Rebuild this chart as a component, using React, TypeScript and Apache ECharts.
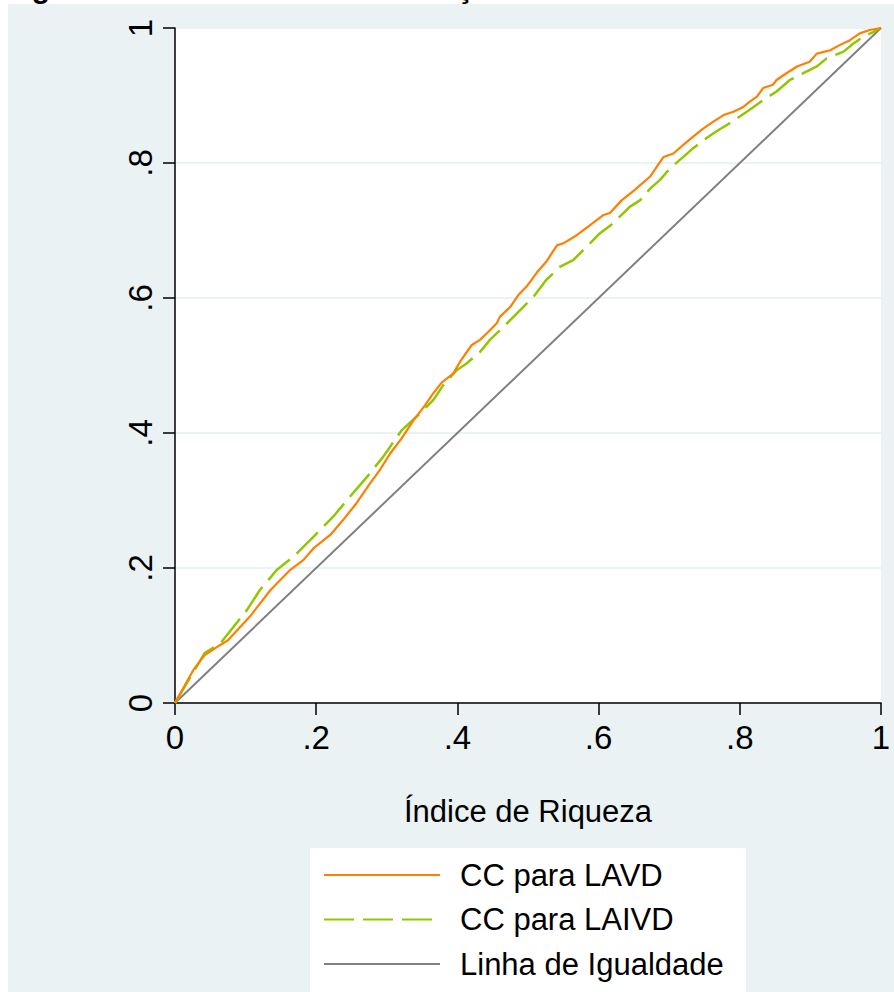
import React, { useEffect, useRef } from "react";
import * as echarts from "echarts";

const seriesNames = ["CC para LAVD", "CC para LAIVD", "Linha de Igualdade"];

const lavdX = [0, 0.026, 0.042, 0.064, 0.075, 0.106, 0.135, 0.163, 0.182, 0.196, 0.22, 0.238, 0.257, 0.276, 0.29, 0.305, 0.321, 0.338, 0.354, 0.366, 0.378, 0.394, 0.404, 0.42, 0.432, 0.444, 0.456, 0.46, 0.475, 0.486, 0.498, 0.512, 0.526, 0.541, 0.55, 0.569, 0.588, 0.607, 0.616, 0.633, 0.65, 0.673, 0.682, 0.692, 0.706, 0.72, 0.734, 0.748, 0.762, 0.777, 0.791, 0.805, 0.814, 0.824, 0.833, 0.847, 0.852, 0.866, 0.881, 0.899, 0.909, 0.928, 0.942, 0.956, 0.97, 0.984, 0.996, 1];
const lavdY = [0, 0.049, 0.071, 0.086, 0.093, 0.128, 0.167, 0.197, 0.212, 0.229, 0.249, 0.271, 0.296, 0.325, 0.345, 0.37, 0.392, 0.419, 0.441, 0.459, 0.475, 0.488, 0.506, 0.53, 0.538, 0.55, 0.563, 0.572, 0.587, 0.604, 0.617, 0.637, 0.654, 0.678, 0.681, 0.693, 0.708, 0.723, 0.726, 0.745, 0.759, 0.78, 0.794, 0.809, 0.814, 0.827, 0.839, 0.851, 0.861, 0.871, 0.876, 0.883, 0.891, 0.898, 0.911, 0.916, 0.923, 0.933, 0.943, 0.95, 0.962, 0.967, 0.975, 0.982, 0.992, 0.997, 0.999, 1];

const laivdX = [0, 0.042, 0.064, 0.083, 0.102, 0.12, 0.144, 0.168, 0.196, 0.224, 0.248, 0.272, 0.295, 0.321, 0.347, 0.366, 0.38, 0.399, 0.413, 0.432, 0.446, 0.465, 0.484, 0.508, 0.526, 0.545, 0.564, 0.583, 0.602, 0.621, 0.644, 0.659, 0.673, 0.687, 0.701, 0.72, 0.734, 0.753, 0.767, 0.786, 0.8, 0.814, 0.833, 0.852, 0.871, 0.89, 0.909, 0.923, 0.947, 0.961, 0.975, 0.989, 1];
const laivdY = [0, 0.074, 0.088, 0.113, 0.138, 0.167, 0.197, 0.217, 0.246, 0.276, 0.306, 0.335, 0.365, 0.404, 0.429, 0.449, 0.471, 0.493, 0.503, 0.52, 0.538, 0.557, 0.577, 0.602, 0.627, 0.646, 0.656, 0.676, 0.696, 0.711, 0.735, 0.745, 0.762, 0.775, 0.792, 0.809, 0.822, 0.837, 0.847, 0.859, 0.869, 0.879, 0.893, 0.906, 0.923, 0.933, 0.943, 0.955, 0.965, 0.977, 0.987, 0.994, 1];

const equalityX = [0, 1];
const equalityY = [0, 1];

const xTickLabels = ["0", ".2", ".4", ".6", ".8", "1"];
const yTickLabels = ["0", ".2", ".4", ".6", ".8", "1"];
const xAxisTitle = "Índice de Riqueza";
const captionText = "Figura 2 – Curvas de Concentração";

const FONT = '"Liberation Sans", Arial, Helvetica, sans-serif';

function zip(xs: number[], ys: number[]) {
  return xs.map((x, i) => [x, ys[i]]);
}

export default function App() {
  const ref = useRef<HTMLDivElement>(null);
  useEffect(() => {
    document.body.style.margin = "0";
    const chart = echarts.init(ref.current!, null, { renderer: "svg" });
    chart.setOption({
      animation: false,
      backgroundColor: "#ffffff",
      textStyle: { fontFamily: FONT },
      graphic: [
        {
          type: "rect",
          z: -10,
          silent: true,
          shape: { x: 8, y: 4, width: 886, height: 988 },
          style: { fill: "#eaf2f3" },
        },
        {
          type: "rect",
          z: 1,
          silent: true,
          shape: { x: 310, y: 848, width: 436, height: 144 },
          style: { fill: "#ffffff" },
        },
        {
          type: "text",
          z: 5,
          x: 5,
          y: -13,
          style: {
            text: captionText,
            font: `bold 30px ${FONT}`,
            fill: "#000000",
            verticalAlign: "middle",
          },
        },
      ],
      grid: {
        left: 175,
        top: 28,
        width: 706,
        height: 675,
        show: true,
        backgroundColor: "#ffffff",
        borderWidth: 0,
      },
      legend: {
        orient: "vertical",
        left: 323,
        top: 858,
        padding: 0,
        itemWidth: 116,
        itemHeight: 14,
        itemGap: 10.5,
        selectedMode: false,
        data: seriesNames,
        itemStyle: { opacity: 0, color: "rgba(0,0,0,0)", borderWidth: 0 },
        textStyle: {
          fontFamily: FONT,
          fontSize: 31,
          color: "#000000",
          lineHeight: 34,
          padding: [0, 0, 0, 15],
        },
      },
      xAxis: {
        type: "value",
        min: 0,
        max: 1,
        interval: 0.2,
        name: xAxisTitle,
        nameLocation: "middle",
        nameGap: 93,
        nameTextStyle: { fontFamily: FONT, fontSize: 31, color: "#000000" },
        axisLine: { show: true, onZero: false, lineStyle: { color: "#000000", width: 1.5 } },
        axisTick: { show: true, length: 12, lineStyle: { color: "#000000", width: 1.5 } },
        axisLabel: {
          fontFamily: FONT,
          fontSize: 33,
          color: "#000000",
          margin: 18,
          formatter: (v: number) => xTickLabels[Math.round(v * 5)],
        },
        splitLine: { show: false },
      },
      yAxis: {
        type: "value",
        min: 0,
        max: 1,
        interval: 0.2,
        axisLine: { show: true, onZero: false, lineStyle: { color: "#000000", width: 1.5 } },
        axisTick: { show: true, length: 12, lineStyle: { color: "#000000", width: 1.5 } },
        axisLabel: {
          fontFamily: FONT,
          fontSize: 33,
          color: "#000000",
          rotate: 90,
          margin: 18,
          formatter: (v: number) => yTickLabels[Math.round(v * 5)],
        },
        splitLine: { show: true, lineStyle: { color: "#eaf2f3", width: 2 } },
      },
      series: [
        {
          type: "line",
          name: seriesNames[0],
          data: zip(lavdX, lavdY),
          symbol: "none",
          z: 4,
          lineStyle: { color: "#ff8000", width: 2.2 },
          itemStyle: { color: "#ff8000" },
        },
        {
          type: "line",
          name: seriesNames[1],
          data: zip(laivdX, laivdY),
          symbol: "none",
          z: 3,
          lineStyle: { color: "#90c800", width: 2.5, type: [30, 9] },
          itemStyle: { color: "#90c800" },
        },
        {
          type: "line",
          name: seriesNames[2],
          data: zip(equalityX, equalityY),
          symbol: "none",
          z: 2,
          lineStyle: { color: "#808080", width: 2 },
          itemStyle: { color: "#808080" },
        },
      ],
    });
    return () => chart.dispose();
  }, []);
  return <div ref={ref} style={{ width: 894, height: 992 }} />;
}
